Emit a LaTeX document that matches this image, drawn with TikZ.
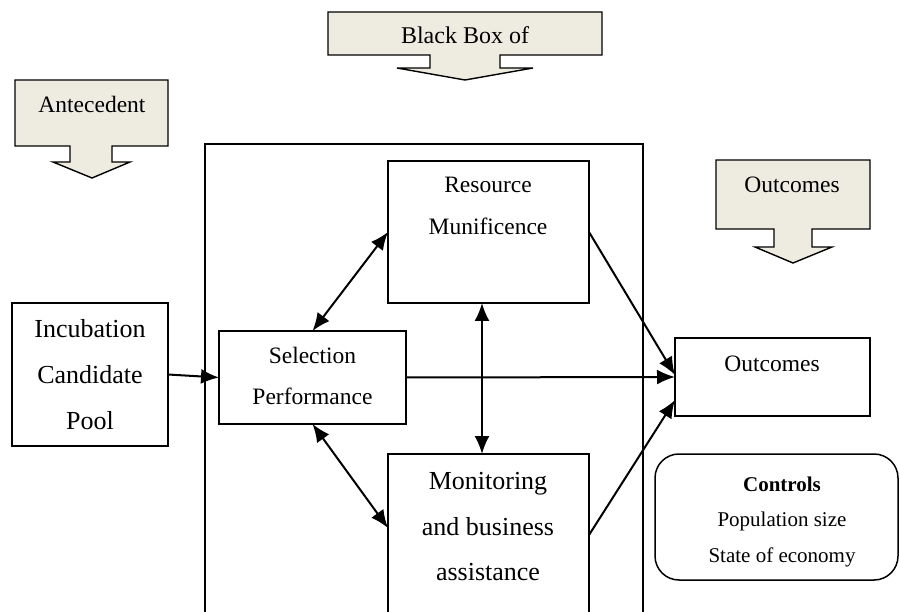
\documentclass[tikz,border=0pt]{standalone}
\usepackage{fontspec}
\setmainfont{Liberation Serif}
\usetikzlibrary{arrows.meta,calc}
\definecolor{callfill}{HTML}{EEECE1}
\begin{document}
\begin{tikzpicture}[x=1pt,y=-1pt,
  frame/.style={draw=black,line width=1.5pt,inner sep=0pt,outer sep=0pt},
  txt/.style={anchor=base,inner sep=0pt,font=\fontsize{23.5}{28}\selectfont},
  bigtxt/.style={anchor=base,inner sep=0pt,font=\fontsize{26}{30}\selectfont},
  smalltxt/.style={anchor=base,inner sep=0pt,font=\fontsize{21}{25}\selectfont},
  tip/.tip={Latex[length=18pt,width=15pt]},
  link/.style={line width=2pt,-tip},
  twoway/.style={line width=2pt,tip-tip},
  callout/.style={draw=black,line width=1.4pt,fill=callfill,line join=miter}]

\useasboundingbox (0,0) rectangle (900,612);
\clip (0,0) rectangle (900,612);

% stage headings drawn as down-pointing callouts
\draw[callout] (328,12) -- (602,12) -- (602,55) -- (500,55) -- (500,68) -- (533,68)
  -- (465,80) -- (397,68) -- (430,68) -- (430,55) -- (328,55) -- cycle;
\node[txt,font=\fontsize{24}{28}\selectfont] (hblack) at (465,44) {Black Box of};

\draw[callout] (15,80) -- (168,80) -- (168,146) -- (112,146) -- (112,162) -- (130,162)
  -- (92,178) -- (53,162) -- (70,162) -- (70,146) -- (15,146) -- cycle;
\node[txt] (hante) at (92,113) {Antecedent};

\draw[callout] (716,160) -- (870,160) -- (870,229) -- (812,229) -- (812,247) -- (832,247)
  -- (793,263) -- (755,247) -- (774,247) -- (774,229) -- (716,229) -- cycle;
\node[txt] (hout) at (792,193) {Outcomes};

% enclosing frame of the black box
\node[frame,line width=1.9pt,minimum width=438pt,minimum height=496pt] (bb) at (424,392) {};

% boxes
\node[frame,minimum width=156pt,minimum height=143pt] (inc) at (90,374.5) {};
\node[frame,minimum width=187pt,minimum height=93pt] (sel) at (312.5,377.5) {};
\node[frame,minimum width=201pt,minimum height=142pt] (res) at (488.5,232) {};
\node[frame,minimum width=201pt,minimum height=186pt] (mon) at (488.5,547) {};
\node[frame,minimum width=195pt,minimum height=78pt] (out) at (772.5,377) {};
\node[frame,rounded corners=24pt,minimum width=243pt,minimum height=126pt] (ctrl) at (776.5,517) {};

% box texts
\node[bigtxt] (incA) at (90,338) {Incubation};
\node[bigtxt] (incB) at (90,384) {Candidate};
\node[bigtxt] (incC) at (90,429) {Pool};

\node[txt] (selA) at (312.5,363) {Selection};
\node[txt] (selB) at (312.5,405) {Performance};

\node[txt] (resA) at (488,193) {Resource};
\node[txt] (resB) at (488,235) {Munificence};

\node[bigtxt] (monA) at (488,489) {Monitoring};
\node[bigtxt] (monB) at (488,535) {and business};
\node[bigtxt] (monC) at (488,580) {assistance};

\node[txt] (outA) at (772,372) {Outcomes};

\node[smalltxt,font=\fontsize{21}{25}\selectfont\bfseries] (ctrlA) at (782,491) {Controls};
\node[smalltxt] (ctrlB) at (782,526) {Population size};
\node[smalltxt] (ctrlC) at (782,562) {State of economy};

% connectors
\coordinate (monL) at ($(mon.north west)!74pt!(mon.south west)$);
\coordinate (monR) at ($(mon.north east)!81pt!(mon.south east)$);
\coordinate (outLow) at ($(out.north west)!62pt!(out.south west)$);
\coordinate (resLow) at ($(res.south west)!94pt!(res.south east)$);

\draw[link] (inc.east) -- (sel.west);
\draw[link] (sel.east) -- (out.west);
\draw[link] (res.east) -- ([yshift=2pt]out.west);
\draw[link] (monR) -- (outLow);
\draw[twoway] (sel.north) -- (res.west);
\draw[twoway] (sel.south) -- (monL);
\draw[twoway] (resLow) -- (resLow |- mon.north);

\end{tikzpicture}
\end{document}
